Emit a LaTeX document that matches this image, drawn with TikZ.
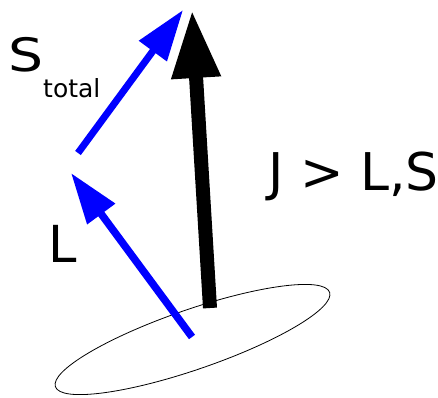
\documentclass[tikz,border=0pt]{standalone}
\usepackage{fontspec}
\setmainfont{DejaVu Sans}
\usetikzlibrary{arrows.meta}
\begin{document}
\begin{tikzpicture}[x=1pt,y=-1pt,
  jarrow/.style={line width=14pt, -{Triangle[length=68pt,width=46pt]}},
  barrow/.style={blue, line width=7pt, -{Triangle[length=51pt,width=33pt]}},
  lbl/.style={inner sep=0pt, anchor=base west}]
\useasboundingbox (0,0) rectangle (438,397);
\coordinate (c) at (192.5,339.5);
\draw[line width=0.8pt, rotate around={19:(c)}] (c) ellipse [x radius=145pt, y radius=30pt];
\coordinate (jtail) at (210,308);
\coordinate (jtip) at (192,10);
\draw[jarrow] (jtail) -- (jtip);
\coordinate (stail) at (78,153);
\coordinate (stip) at (183,10);
\draw[barrow] (stail) -- (stip);
\coordinate (ltail) at (192,337);
\coordinate (ltip) at (71,173);
\draw[barrow,line width=7.5pt] (ltail) -- (ltip);
\node[lbl, font=\fontsize{52}{52}\selectfont] (jls) at (268,190) {J > L,S};
\node[lbl, font=\fontsize{51}{51}\selectfont] (l) at (48,262) {L};
\node[lbl] (s) at (8,71) {\scalebox{1.2}[1]{\fontsize{46}{46}\selectfont S}\raisebox{-26pt}{\fontsize{25}{25}\selectfont total}};
\end{tikzpicture}
\end{document}
